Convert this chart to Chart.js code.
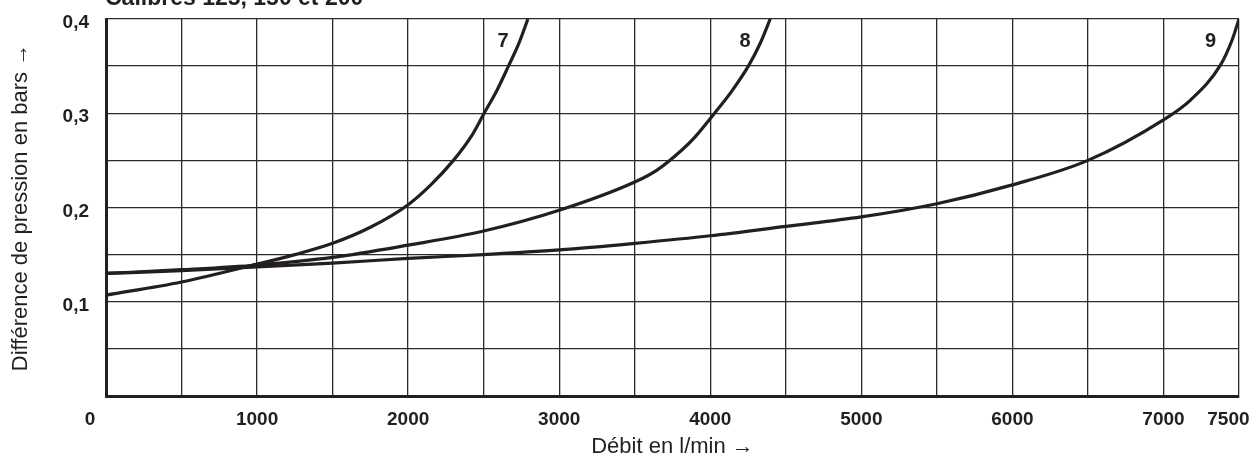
<!DOCTYPE html>
<html>
<head>
<meta charset="utf-8">
<script src="https://cdn.jsdelivr.net/npm/chart.js@4/dist/chart.umd.min.js"></script>
<style>
    html, body { margin: 0; padding: 0; background: #fff; }
    #wrap { position: relative; width: 1254px; height: 462px; }
</style>
</head>
<body>
<div id="wrap"><canvas id="chart" width="1254" height="462"></canvas></div>
<script>
// Débit (l/min) -> différence de pression (bars)
const curve7X = [0, 500, 1000, 1250, 1500, 1750, 2000, 2150, 2300, 2420, 2503, 2590, 2664, 2735, 2793];
const curve7Y = [0.107, 0.121, 0.140, 0.150, 0.162, 0.179, 0.203, 0.224, 0.250, 0.276, 0.300, 0.325, 0.350, 0.375, 0.400];

const curve8X = [0, 500, 1000, 1500, 2000, 2500, 3000, 3500, 3650, 3812, 3900, 4028, 4140, 4252, 4330, 4397];
const curve8Y = [0.130, 0.134, 0.139, 0.147, 0.160, 0.175, 0.197, 0.227, 0.240, 0.261, 0.275, 0.300, 0.323, 0.350, 0.374, 0.400];

const curve9X = [0, 500, 1000, 1500, 2000, 2500, 3000, 3500, 4000, 4500, 5000, 5500, 6000, 6500, 7000, 7179, 7377, 7455, 7500];
const curve9Y = [0.130, 0.133, 0.137, 0.141, 0.146, 0.150, 0.155, 0.162, 0.170, 0.180, 0.190, 0.204, 0.224, 0.250, 0.293, 0.314, 0.351, 0.378, 0.400];

const curveNames = ['7', '8', '9'];
const nameX = [2629, 4231, 7311];
const nameY = [0.376, 0.376, 0.376];

const xTickLabels = [0, 1000, 2000, 3000, 4000, 5000, 6000, 7000, 7500];
const yTickLabels = [0.1, 0.2, 0.3, 0.4];

const INK = '#231f20';
const TICK_FONT = { family: "'Liberation Sans', Arial, sans-serif", size: 19, weight: 'bold' };
const TITLE_FONT = { family: "'Liberation Sans', Arial, sans-serif", size: 22 };
const FIG = '\u2007'; // figure space, nudges the end labels inwards like the original

const pts = (xs, ys) => xs.map((x, i) => ({ x, y: ys[i] }));
const curve = (xs, ys) => ({
    data: pts(xs, ys),
    borderColor: INK,
    borderWidth: 3.2,
    pointRadius: 0,
    fill: false,
    cubicInterpolationMode: 'monotone',
});

function xLabel(v) {
    if (!xTickLabels.includes(v)) return '';
    if (v === 0) return '0' + FIG.repeat(3);
    if (v === 7500) return '7500' + FIG.repeat(2);
    return String(v);
}

// numbers 7 / 8 / 9 next to each curve, plus the half-hidden heading
const annotations = {
    id: 'annotations',
    afterDatasetsDraw(chart) {
        const { ctx, scales: { x, y } } = chart;
        ctx.save();
        ctx.fillStyle = INK;
        ctx.font = "bold 20px 'Liberation Sans', Arial, sans-serif";
        ctx.textAlign = 'center';
        ctx.textBaseline = 'middle';
        curveNames.forEach((n, i) => {
            ctx.fillText(n, x.getPixelForValue(nameX[i]), y.getPixelForValue(nameY[i]));
        });
        ctx.textAlign = 'left';
        ctx.textBaseline = 'alphabetic';
        ctx.font = "bold 23px 'Liberation Sans', Arial, sans-serif";
        ctx.fillText('Calibres 125, 150 et 200', 105, 5);
        ctx.restore();
    }
};

new Chart(document.getElementById('chart'), {
    type: 'line',
    data: {
        datasets: [curve(curve7X, curve7Y), curve(curve8X, curve8Y), curve(curve9X, curve9Y)]
    },
    options: {
        responsive: false,
        animation: false,
        layout: { padding: { left: 0, right: 15, top: 19, bottom: 0 } },
        plugins: { legend: { display: false }, tooltip: { enabled: false } },
        scales: {
            x: {
                type: 'linear',
                min: 0, max: 7500,
                afterFit: s => { s.height = 66; s.paddingLeft = 0; s.paddingRight = 0; },
                grid: { color: '#2b2b2b', lineWidth: 1.3, drawTicks: false },
                border: { color: INK, width: 3 },
                ticks: {
                    stepSize: 500,
                    color: INK,
                    font: TICK_FONT,
                    padding: 12,
                    maxRotation: 0,
                    autoSkip: false,
                    callback: xLabel
                },
                title: {
                    display: true,
                    text: 'Débit en l/min →',
                    color: INK,
                    font: TITLE_FONT,
                    padding: { top: 0, bottom: 2 }
                }
            },
            y: {
                type: 'linear',
                min: 0, max: 0.4,
                afterFit: s => { s.width = 106; s.paddingTop = 0; s.paddingBottom = 0; },
                grid: { color: '#2b2b2b', lineWidth: 1.3, drawTicks: false },
                border: { color: INK, width: 3 },
                ticks: {
                    stepSize: 0.05,
                    color: INK,
                    font: TICK_FONT,
                    padding: 17,
                    labelOffset: 4,
                    autoSkip: false,
                    callback: v => yTickLabels.some(t => Math.abs(t - v) < 1e-6) ? v.toFixed(1).replace('.', ',') : ''
                },
                title: {
                    display: true,
                    text: 'Différence de pression en bars →',
                    color: INK,
                    font: TITLE_FONT,
                    padding: { top: 8, bottom: 0 }
                }
            }
        }
    },
    plugins: [annotations]
});
</script>
</body>
</html>
